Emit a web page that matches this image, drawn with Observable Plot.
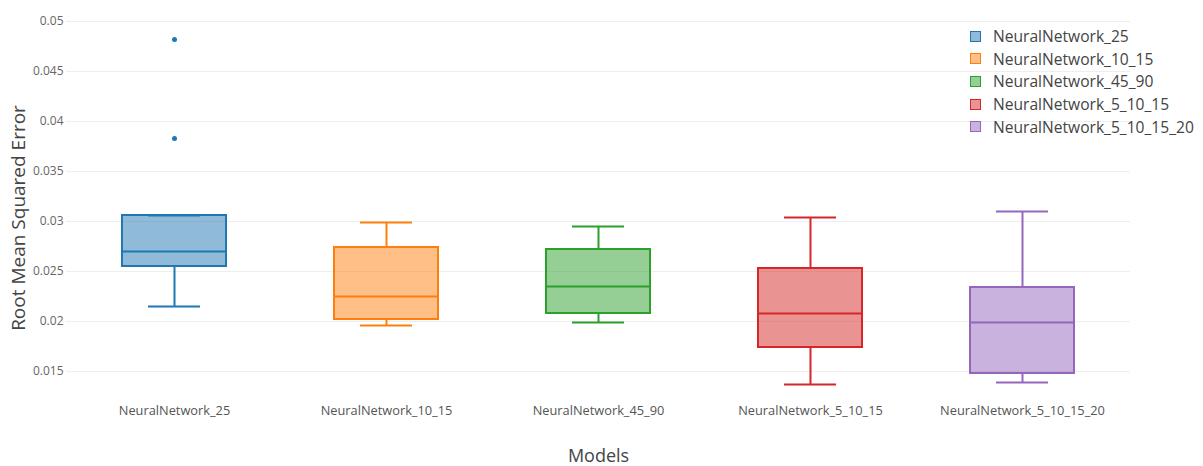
<!DOCTYPE html>
<html>
<head>
<meta charset="utf-8">
<script src="https://cdn.jsdelivr.net/npm/d3@7"></script>
<script src="https://cdn.jsdelivr.net/npm/@observablehq/plot@0.6"></script>
<style>
  html, body { margin: 0; padding: 0; background: #fff; }
  #wrap { position: relative; width: 1203px; height: 466px; font-family: "Open Sans", sans-serif; }
  #legend { position: absolute; left: 970px; top: 25px; color: #444; font-size: 15.6px; }
  .row { display: flex; align-items: center; height: 22.6px; }
  .sw { width: 11px; height: 11px; margin-right: 12px; box-sizing: border-box; border: 1.5px solid; }
</style>
</head>
<body>
<div id="wrap"><div id="legend"></div></div>
<script>
const models = ["NeuralNetwork_25", "NeuralNetwork_10_15", "NeuralNetwork_45_90", "NeuralNetwork_5_10_15", "NeuralNetwork_5_10_15_20"];
const lowerWhisker = [0.0215, 0.0196, 0.0199, 0.0137, 0.0139];
const q1 =           [0.0255, 0.0202, 0.0208, 0.0174, 0.0148];
const median =       [0.0270, 0.0225, 0.0235, 0.0208, 0.0199];
const q3 =           [0.0306, 0.0274, 0.0272, 0.0253, 0.0234];
const upperWhisker = [0.0306, 0.0299, 0.0295, 0.0304, 0.0310];
const outlierModels = ["NeuralNetwork_25", "NeuralNetwork_25"];
const outlierValues = [0.0482, 0.0383];
const yTicks = [0.015, 0.02, 0.025, 0.03, 0.035, 0.04, 0.045, 0.05];
const palette = ["#1f77b4", "#ff7f0e", "#2ca02c", "#d62728", "#9467bd"];

const data = models.map((m, i) => ({model: m, low: lowerWhisker[i], q1: q1[i], med: median[i], q3: q3[i], high: upperWhisker[i]}));
const outliers = outlierModels.map((m, i) => ({model: m, value: outlierValues[i]}));

const chart = Plot.plot({
  width: 1203,
  height: 466,
  marginLeft: 66,
  marginRight: 73,
  marginTop: 8,
  marginBottom: 67,
  style: {fontFamily: "Open Sans, sans-serif", background: "#fff", color: "#444"},
  x: {domain: models, padding: 0, axis: null},
  y: {domain: [0.0122, 0.0513], axis: null},
  color: {domain: models, range: palette},
  marks: [
    Plot.gridY(yTicks, {stroke: "#eeeeee", strokeOpacity: 1}),
    Plot.axisY(yTicks, {tickSize: 0, tickPadding: 3, fontSize: 12, fill: "#666", label: null, tickFormat: d => String(+d.toFixed(4))}),
    Plot.axisX(models, {tickSize: 0, tickPadding: 6, fontSize: 12.8, fill: "#555", label: null}),
    Plot.text(["Root Mean Squared Error"], {text: d => d, frameAnchor: "left", rotate: -90, textAnchor: "middle", dx: -48, dy: 14, fontSize: 19, fill: "#444"}),
    Plot.text(["Models"], {text: d => d, frameAnchor: "bottom", lineAnchor: "middle", dy: 57, fontSize: 18, fill: "#444"}),
    Plot.ruleX(data, {x: "model", y1: "low", y2: "q1", stroke: "model", strokeWidth: 2}),
    Plot.ruleX(data, {x: "model", y1: "q3", y2: "high", stroke: "model", strokeWidth: 2}),
    Plot.tickY(data, {x: "model", y: "low", stroke: "model", strokeWidth: 2, insetLeft: 80, insetRight: 80}),
    Plot.tickY(data, {x: "model", y: "high", stroke: "model", strokeWidth: 2, insetLeft: 80, insetRight: 80}),
    Plot.barY(data, {x: "model", y1: "q1", y2: "q3", fill: "model", fillOpacity: 0.5, stroke: "model", strokeWidth: 2, insetLeft: 54, insetRight: 54}),
    Plot.tickY(data, {x: "model", y: "med", stroke: "model", strokeWidth: 2, insetLeft: 54, insetRight: 54}),
    Plot.dot(outliers, {x: "model", y: "value", fill: "model", r: 2.5})
  ]
});
const wrap = document.getElementById("wrap");
wrap.insertBefore(chart, wrap.firstChild);

const legend = document.getElementById("legend");
models.forEach((m, i) => {
  const row = document.createElement("div");
  row.className = "row";
  const sw = document.createElement("span");
  sw.className = "sw";
  const c = d3.color(palette[i]);
  sw.style.borderColor = palette[i];
  sw.style.background = `rgba(${c.r},${c.g},${c.b},0.5)`;
  const t = document.createElement("span");
  t.textContent = m;
  row.appendChild(sw);
  row.appendChild(t);
  legend.appendChild(row);
});
</script>
</body>
</html>
